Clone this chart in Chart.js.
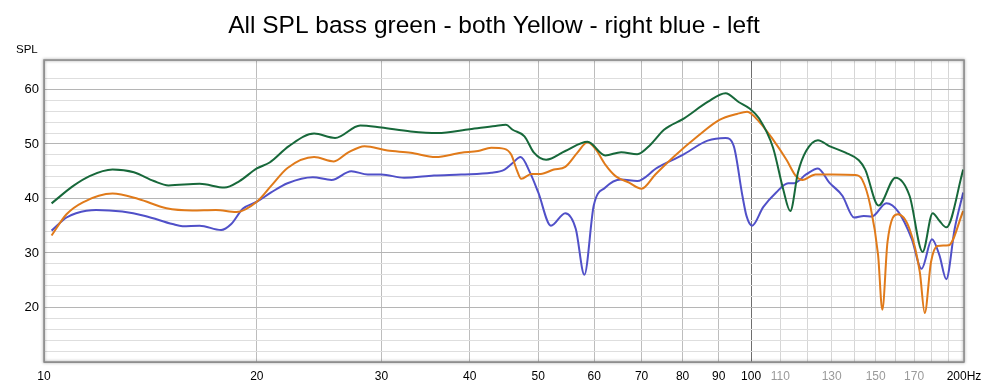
<!DOCTYPE html>
<html>
<head>
<meta charset="utf-8">
<script src="https://cdn.jsdelivr.net/npm/chart.js@4.4.1/dist/chart.umd.min.js"></script>
<style>
    html, body { margin: 0; padding: 0; background: #fff; }
    #wrap { width: 985px; height: 386px; }
</style>
</head>
<body>
<div id="wrap"><canvas id="spl-chart" width="985" height="386"></canvas></div>
<script>
// values (Hz / dB SPL)
const greenFreq = [10.25, 11, 11.6, 12.5, 13.4, 14.3, 15, 16.6, 18, 18.9, 20, 20.85, 22.2, 24.1, 25.8, 28, 30, 33, 36, 40, 43.5, 45, 46, 47.8, 49.3, 51.3, 54.6, 58.7, 62.2, 65.5, 69, 72.1, 75.3, 80.4, 86.8, 92, 96, 99.5, 102.6, 107.4, 111, 113.6, 116.5, 119.6, 124.3, 129, 136, 142, 145, 151.4, 160, 167.5, 174.8, 180.6, 184.6, 188.8, 199.5];
const greenSpl = [39.1, 42.3, 44.1, 45.3, 44.8, 43.2, 42.4, 42.7, 42.0, 43.2, 45.5, 46.6, 49.6, 51.9, 51.1, 53.4, 53.0, 52.3, 52.0, 52.7, 53.3, 53.5, 52.6, 51.4, 48.4, 47.1, 48.7, 50.4, 47.9, 48.5, 48.1, 49.9, 52.6, 54.7, 57.7, 59.3, 57.7, 56.5, 54.7, 49.3, 41.7, 37.7, 44.8, 48.7, 50.7, 49.6, 48.4, 47.0, 45.3, 38.7, 43.8, 40.5, 30.2, 37.3, 35.9, 34.7, 45.3];

const orangeFreq = [10.25, 10.76, 11.35, 12.5, 13.6, 14.9, 16.2, 17.5, 18.7, 20, 20.95, 22.1, 24.1, 25.7, 26.9, 28.4, 30.6, 33, 35.8, 38.9, 41.1, 42.9, 44.8, 45.8, 46.6, 47.3, 48.9, 50.4, 52.6, 54.6, 56.8, 58.7, 60.3, 62.2, 64.3, 67.2, 70, 73.2, 77.8, 84, 90.2, 95.5, 98.7, 102.6, 107.4, 112.2, 115.7, 118.2, 123.3, 130.3, 140.4, 143.5, 147.4, 151.2, 153.3, 155.9, 161.3, 167.5, 173.2, 176, 179.6, 183.5, 190.2, 199.5];
const orangeSpl = [33.2, 37.1, 39.3, 40.9, 39.9, 38.2, 37.8, 37.9, 37.5, 39.4, 42.3, 45.6, 47.6, 46.8, 48.4, 49.6, 48.8, 48.4, 47.6, 48.4, 48.7, 49.3, 49.1, 48.0, 45.3, 43.6, 44.5, 44.5, 45.3, 45.8, 48.4, 50.3, 49.0, 46.2, 44.1, 42.9, 41.8, 44.4, 47.7, 51.4, 54.4, 55.5, 55.9, 54.1, 50.8, 47.1, 44.1, 43.4, 44.4, 44.4, 44.3, 43.5, 38.7, 29.6, 19.6, 32.0, 37.1, 34.4, 26.5, 19.0, 28.3, 31.3, 31.4, 37.7];

const blueFreq = [10.25, 10.76, 11.1, 11.85, 12.9, 13.9, 15.2, 15.7, 16.6, 17.8, 18.4, 19.1, 20, 20.95, 22.1, 24, 25.5, 27.2, 28.7, 30, 32.3, 35.6, 38.9, 42.9, 44.8, 46, 47.2, 48.7, 50, 52.1, 54.6, 56.5, 58.1, 59.9, 62.2, 65.5, 69, 73.6, 79.8, 86.8, 92, 94.5, 97.2, 98.5, 100.3, 104, 108.5, 112.8, 115, 119.6, 124.3, 129, 134.6, 139.8, 144.3, 148.2, 155.3, 161.6, 168.7, 174.2, 180.2, 184.6, 188.8, 194, 199.5];
const blueSpl = [34.1, 36.5, 37.3, 37.9, 37.6, 36.8, 35.3, 34.9, 35.0, 34.2, 35.3, 38.1, 39.4, 41.1, 42.8, 43.9, 43.4, 45.0, 44.4, 44.4, 43.8, 44.2, 44.4, 44.7, 45.3, 46.5, 47.6, 44.7, 41.1, 35.0, 37.3, 34.4, 26.0, 38.7, 42.0, 43.5, 43.2, 45.6, 47.9, 50.6, 51.1, 49.6, 40.5, 36.8, 35.0, 38.4, 41.1, 42.8, 42.8, 44.4, 45.5, 42.9, 40.5, 36.5, 36.8, 36.7, 39.1, 37.5, 32.6, 27.1, 32.5, 29.6, 25.2, 34.4, 41.1];

// x grid lines and which of them get a label
const freqTicks = [10, 20, 30, 40, 50, 60, 70, 80, 90, 100, 110, 120, 130, 140, 150, 160, 170, 180, 190, 200];
const freqLabels = {10: "10", 20: "20", 30: "30", 40: "40", 50: "50", 60: "60", 70: "70", 80: "80", 90: "90", 100: "100", 110: "110", 130: "130", 150: "150", 170: "170", 200: "200Hz"};
const splLabels = [20, 30, 40, 50, 60];

function toPoints(freqs, spls) {
    return freqs.map((f, i) => ({ x: f, y: spls[i] }));
}

const fontFamily = "'Liberation Sans', Arial, sans-serif";

// title, "SPL" caption and the shaded frame round the plot
const decorPlugin = {
    id: "decor",
    afterDraw(chart) {
        const ctx = chart.ctx;
        const a = chart.chartArea;
        ctx.save();
        ctx.shadowColor = "rgba(0,0,0,0.45)";
        ctx.shadowBlur = 3;
        ctx.shadowOffsetX = 0;
        ctx.shadowOffsetY = 0;
        ctx.strokeStyle = "#8c8c8c";
        ctx.lineWidth = 1.5;
        ctx.strokeRect(a.left, a.top, a.right - a.left, a.bottom - a.top);
        ctx.restore();

        ctx.save();
        ctx.fillStyle = "#000";
        ctx.textAlign = "center";
        ctx.textBaseline = "alphabetic";
        ctx.font = "24.5px " + fontFamily;
        ctx.fillText("All SPL bass green - both Yellow - right blue - left", 494, 33);
        ctx.font = "11.5px " + fontFamily;
        ctx.textAlign = "left";
        ctx.fillText("SPL", 16, 53);
        ctx.restore();
    }
};

const canvas = document.getElementById("spl-chart");

const splChart = new Chart(canvas, {
    type: "line",
    data: {
        datasets: [
            {
                label: "both",
                data: toPoints(greenFreq, greenSpl),
                borderColor: "#17683a",
            },
            {
                label: "right",
                data: toPoints(orangeFreq, orangeSpl),
                borderColor: "#e07a1a",
            },
            {
                label: "left",
                data: toPoints(blueFreq, blueSpl),
                borderColor: "#5050c8",
            }
        ]
    },
    options: {
        responsive: false,
        animation: false,
        parsing: false,
        datasets: {
            line: {
                borderWidth: 2,
                pointRadius: 0,
                fill: false,
                cubicInterpolationMode: "monotone"
            }
        },
        layout: { padding: { top: 60, right: 21, left: 0, bottom: 0 } },
        plugins: {
            legend: { display: false },
            tooltip: { enabled: false },
            title: { display: false }
        },
        scales: {
            x: {
                type: "logarithmic",
                min: 10,
                max: 200,
                afterBuildTicks(scale) {
                    scale.ticks = freqTicks.map(v => ({ value: v }));
                },
                afterFit(scale) {
                    scale.height = 24;
                    // let "200Hz" hang over the edge instead of shrinking the plot
                    scale.paddingLeft = 0;
                    scale.paddingRight = 0;
                },
                border: { display: false },
                grid: {
                    drawTicks: false,
                    lineWidth: 1,
                    color(c) {
                        const v = c.tick ? c.tick.value : 0;
                        if (v === 100) return "#6e6e6e";
                        if (v > 100) return "#d6d6d6";
                        return "#bdbdbd";
                    }
                },
                ticks: {
                    autoSkip: false,
                    maxRotation: 0,
                    padding: 7,
                    font: { family: fontFamily, size: 12 },
                    color(c) {
                        const v = c.tick ? c.tick.value : 0;
                        return (v > 100 && v < 200) ? "#9a9a9a" : "#000";
                    },
                    callback(value) {
                        return freqLabels[value] || "";
                    }
                }
            },
            y: {
                type: "linear",
                min: 10,
                max: 65.4,
                afterFit(scale) {
                    scale.width = 44;
                },
                border: { display: false },
                grid: {
                    drawTicks: false,
                    lineWidth: 1,
                    color(c) {
                        const v = c.tick ? c.tick.value : 0;
                        return v % 10 === 0 ? "#b5b5b5" : "#dedede";
                    }
                },
                ticks: {
                    stepSize: 2,
                    autoSkip: false,
                    padding: 5,
                    font: { family: fontFamily, size: 13 },
                    color: "#000",
                    callback(value) {
                        return splLabels.includes(value) ? String(value) : "";
                    }
                }
            }
        }
    },
    plugins: [decorPlugin]
});
</script>
</body>
</html>
